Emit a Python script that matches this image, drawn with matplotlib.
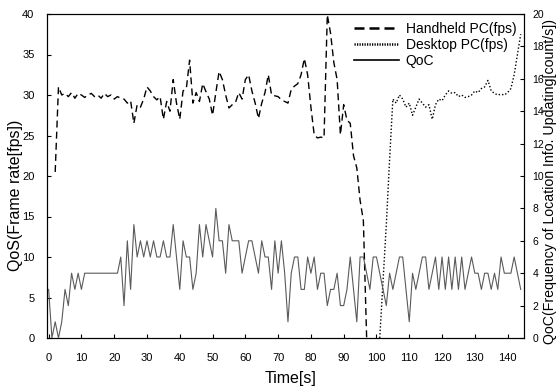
import matplotlib
matplotlib.use("Agg")
import matplotlib.pyplot as plt
import numpy as np

plt.rcParams['font.family'] = ['Liberation Sans', 'DejaVu Sans']

# Handheld PC frame rate (fps), t = 2..97 s
hh_t = list(range(2, 98))
hh_v = [20.5, 31, 30, 30.2, 29.8, 30.3, 29.6, 30.2, 30, 29.7, 30, 30.2, 29.8, 30, 29.6,
        30.2, 29.8, 30, 29.5, 29.8, 29.6, 29.5, 29, 29.3, 26.5, 28.8, 28.5, 29.5, 31, 30.5,
        29.8, 29.4, 29.8, 27, 29.2, 28, 31.9, 29, 27, 30.5, 30.8, 34.3, 29, 30.3, 29.2, 31.4,
        30.4, 29.5, 27.5, 30.3, 32.9, 31.9, 30, 28.4, 28.8, 29.1, 30.3, 29.5, 31.9, 32.5, 30.5,
        29, 27.1, 29, 30.3, 32.5, 30, 29.9, 29.8, 29.4, 29.2, 29, 30.7, 31.1, 31.4, 32.5, 34.5,
        32.5, 28.5, 25.1, 24.7, 24.8, 24.7, 39.9, 37.6, 34, 31.9, 25.1, 28.8, 26.9, 26.5, 22.5,
        21, 17, 14.5, 0]

# Desktop PC frame rate (fps), t = 101..144 s
dt_t = list(range(101, 145))
dt_v = [0, 7, 14, 22, 29.5, 29, 30, 29.5, 28.5, 29, 27.5, 28.5, 29.5, 29, 28.5, 28.8, 27,
        28.8, 29.5, 29.3, 30, 30.5, 30.2, 30.3, 29.8, 30, 29.7, 29.8, 30, 30.5, 30.3, 30.8,
        31, 31.8, 30.5, 30.2, 30, 30.1, 30, 30.3, 30.8, 32.5, 35, 37.5]

# QoC (count/s), t = 0..144 s
qoc_t = list(range(0, 145))
qoc_v = [3, 0, 1, 0, 1, 3, 2, 4, 3, 4, 3, 4, 4, 4, 4, 4, 4, 4, 4, 4, 4, 4, 5, 2, 6, 3, 7, 5,
         6, 5, 6, 5, 6, 5, 5, 6, 5, 5, 7, 5, 3, 6, 5, 5, 3, 4, 7, 5, 7, 6, 5, 8, 6, 6, 4, 7,
         6, 6, 6, 4, 5, 6, 6, 5, 4, 6, 5, 5, 3, 6, 4, 6, 4, 1, 4, 5, 5, 3, 3, 5, 4, 5, 3, 4,
         4, 2, 3, 3, 4, 2, 2, 3, 5, 3, 1, 5, 5, 4, 3, 5, 5, 4, 3, 2, 4, 3, 4, 5, 5, 3, 1, 4,
         3, 4, 5, 5, 3, 4, 5, 3, 5, 3, 5, 3, 5, 3, 5, 3, 4, 5, 4, 4, 3, 4, 4, 3, 4, 3, 5, 4,
         4, 4, 5, 4, 3]

x_ticks = list(range(0, 141, 10))
left_ticks = list(range(0, 41, 5))
right_ticks = list(range(0, 21, 2))

W, H = 556, 392
fig = plt.figure(figsize=(W/100, H/100), dpi=100)
ax = fig.add_axes([47/W, 1-338/H, (524-47)/W, (338-14)/H])
ax2 = ax.twinx()

l1, = ax.plot(hh_t, hh_v, color='black', lw=1.0, linestyle=(0, (5, 3)))
l2, = ax.plot(dt_t, dt_v, color='black', lw=1.0, linestyle=(0, (1, 1.5)))
l3, = ax2.plot(qoc_t, qoc_v, color='#5a5a5a', lw=0.8)

ax.set_xlim(-0.5, 145)
ax.set_ylim(0, 40)
ax2.set_ylim(0, 20)
ax.set_xticks(x_ticks)
ax.set_yticks(left_ticks)
ax2.set_yticks(right_ticks)

ax.tick_params(direction='in', labelsize=8, length=3, pad=9)
ax2.tick_params(direction='in', labelsize=7.5, length=3, pad=6)
ax.tick_params(axis='x', pad=11)

for a in (ax, ax2):
    for s in a.spines.values():
        s.set_linewidth(0.8)

fig.text(291/W, 1-379/H, 'Time[s]', fontsize=11.5, ha='center', va='center')
fig.text(16/W, 1-195/H, 'QoS(Frame rate[fps])', fontsize=11.5, ha='center', va='center',
         rotation=90)
fig.text(550/W, 1-182/H, 'QoC(Frequency of Location Info. Updating[count/s])', fontsize=10.2,
         ha='center', va='center', rotation=90)

h1 = plt.Line2D([], [], color='black', lw=1.8, linestyle=(0, (4, 2)))
h2 = plt.Line2D([], [], color='black', lw=1.8, linestyle=(0, (0.5, 0.5)))
h3 = plt.Line2D([], [], color='black', lw=1.2)
ax2.legend([h1, h2, h3], ['Handheld PC(fps)', 'Desktop PC(fps)', 'QoC'],
           loc='upper right', frameon=False, fontsize=10, handlelength=3.2,
           labelspacing=0.15, borderaxespad=0.15, handletextpad=0.5)

fig.savefig('out.png', dpi=100)
